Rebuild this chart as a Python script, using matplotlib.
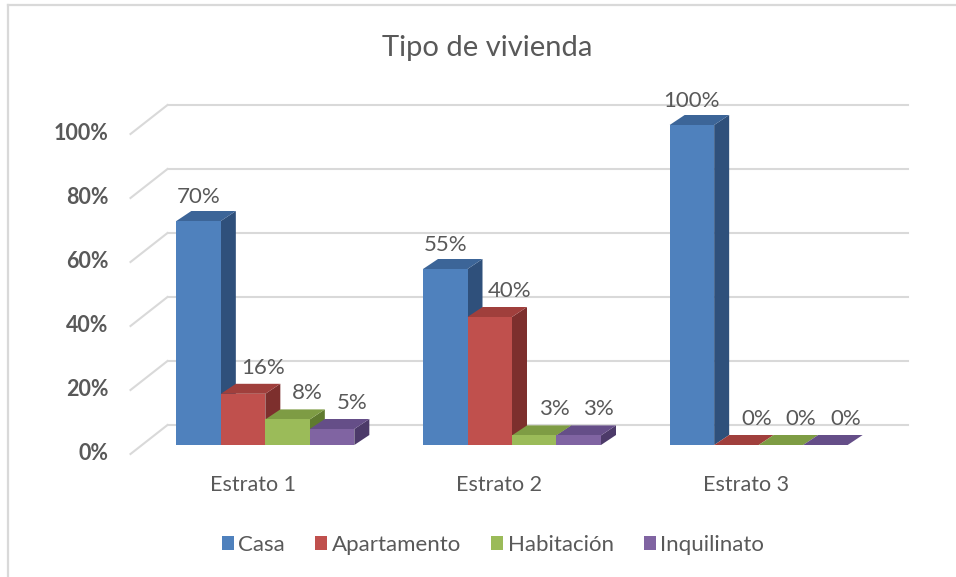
import matplotlib
matplotlib.use('Agg')
import matplotlib.pyplot as plt
from matplotlib.patches import Polygon, Patch
from matplotlib.lines import Line2D

# ---------------- data ----------------
title = 'Tipo de vivienda'
categories = ['Estrato 1', 'Estrato 2', 'Estrato 3']
series = ['Casa', 'Apartamento', 'Habitación', 'Inquilinato']
casa = [70, 55, 100]
apartamento = [16, 40, 0]
habitacion = [8, 3, 0]
inquilinato = [5, 3, 0]
yticks = [0, 20, 40, 60, 80, 100]
ytick_labels = ['0%', '20%', '40%', '60%', '80%', '100%']

values = [casa, apartamento, habitacion, inquilinato]
front_colors = ['#4F81BD', '#C0504D', '#9BBB59', '#8064A2']
top_colors = ['#3C6598', '#A03F3C', '#7E9C44', '#654E88']
side_colors = ['#2F507B', '#7D2F2D', '#5F7A2F', '#4C3A69']
text_color = '#595959'
grid_color = '#D9D9D9'

plt.rcParams['font.family'] = ['Lato', 'DejaVu Sans']

W, H = 956, 577
fig = plt.figure(figsize=(W / 100, H / 100), dpi=100)
fig.patch.set_facecolor('white')

# axes in pixel geometry (bar plane)
ax_l, ax_r, ax_b, ax_t = 142, 882, 445, 125
ax = fig.add_axes([ax_l / W, 1 - ax_b / H, (ax_r - ax_l) / W, (ax_b - ax_t) / H])
ax.set_xlim(-0.5, 2.5)
ax.set_ylim(0, 100)
ax.axis('off')

ppx = (ax_r - ax_l) / 3.0     # pixels per category unit
ppy = (ax_b - ax_t) / 100.0   # pixels per percent

def dxp(p):
    return p / ppx

def dyp(p):
    return p / ppy

# back wall / front plane offsets (pixels, y positive = up)
back_dx, back_dy = 25.5, 20
front_dx, front_dy = -11.5, -9

# gridlines on back wall + side wall lines
for v, lab in zip(yticks, ytick_labels):
    ax.plot([-0.5 + dxp(back_dx), 2.5 + dxp(back_dx)], [v + dyp(back_dy)] * 2,
            color=grid_color, lw=1.5, clip_on=False, zorder=1)
    ax.plot([-0.5 + dxp(front_dx), -0.5 + dxp(back_dx)],
            [v + dyp(front_dy), v + dyp(back_dy)],
            color=grid_color, lw=1.5, clip_on=False, zorder=1)
    ax.text(-0.5 + dxp(front_dx - 22), v + dyp(front_dy), lab,
            ha='right', va='center', fontsize=15.5, color=text_color,
            fontweight='bold', clip_on=False)

# bars
w = 0.1804
ddx, ddy = dxp(15), dyp(10)
group_left = -2 * w
for i, cat in enumerate(categories):
    for j, vals in enumerate(values):
        v = vals[i]
        xl = i + group_left + j * w
        z = 3 + i * 10 + j
        side = Polygon([(xl + w, 0), (xl + w, v), (xl + w + ddx, v + ddy), (xl + w + ddx, ddy)],
                       closed=True, facecolor=side_colors[j], edgecolor='none',
                       clip_on=False, zorder=z)
        top = Polygon([(xl, v), (xl + w, v), (xl + w + ddx, v + ddy), (xl + ddx, v + ddy)],
                      closed=True, facecolor=top_colors[j], edgecolor='none',
                      clip_on=False, zorder=z)
        front = Polygon([(xl, 0), (xl + w, 0), (xl + w, v), (xl, v)],
                        closed=True, facecolor=front_colors[j], edgecolor='none',
                        clip_on=False, zorder=z)
        for p in (side, top, front):
            ax.add_patch(p)
        if j == 0:
            ox, oy = 0, 24
        else:
            ox, oy = 20, 26
        ax.annotate(f'{v}%', xy=(xl + w / 2, v), xytext=(ox * 0.72, oy * 0.72),
                    textcoords='offset points', ha='center', va='center',
                    fontsize=16, color=text_color, zorder=50,
                    annotation_clip=False)
    ax.text(i + dxp(-12.5), dyp(-40), cat, ha='center', va='center',
            fontsize=15.5, color=text_color, clip_on=False)

# title
fig.text(487 / W, 1 - 48 / H, title, ha='center', va='center',
         fontsize=21, color=text_color)

# legend
handles = [Patch(facecolor=c, edgecolor='none') for c in front_colors]
leg = fig.legend(handles, series, loc='center', bbox_to_anchor=(493 / W, 1 - 545 / H),
                 ncol=4, frameon=False, fontsize=16, handlelength=0.55,
                 handleheight=0.55, handletextpad=0.2, columnspacing=1.35)
for t in leg.get_texts():
    t.set_color(text_color)

# outer border (top and left)
fig.add_artist(Line2D([8 / W, 8 / W], [0, 1 - 5 / H], transform=fig.transFigure,
                      color=grid_color, lw=1.6))
fig.add_artist(Line2D([8 / W, 1], [1 - 5 / H, 1 - 5 / H], transform=fig.transFigure,
                      color=grid_color, lw=1.6))

fig.savefig('out.png', dpi=100, facecolor='white')
